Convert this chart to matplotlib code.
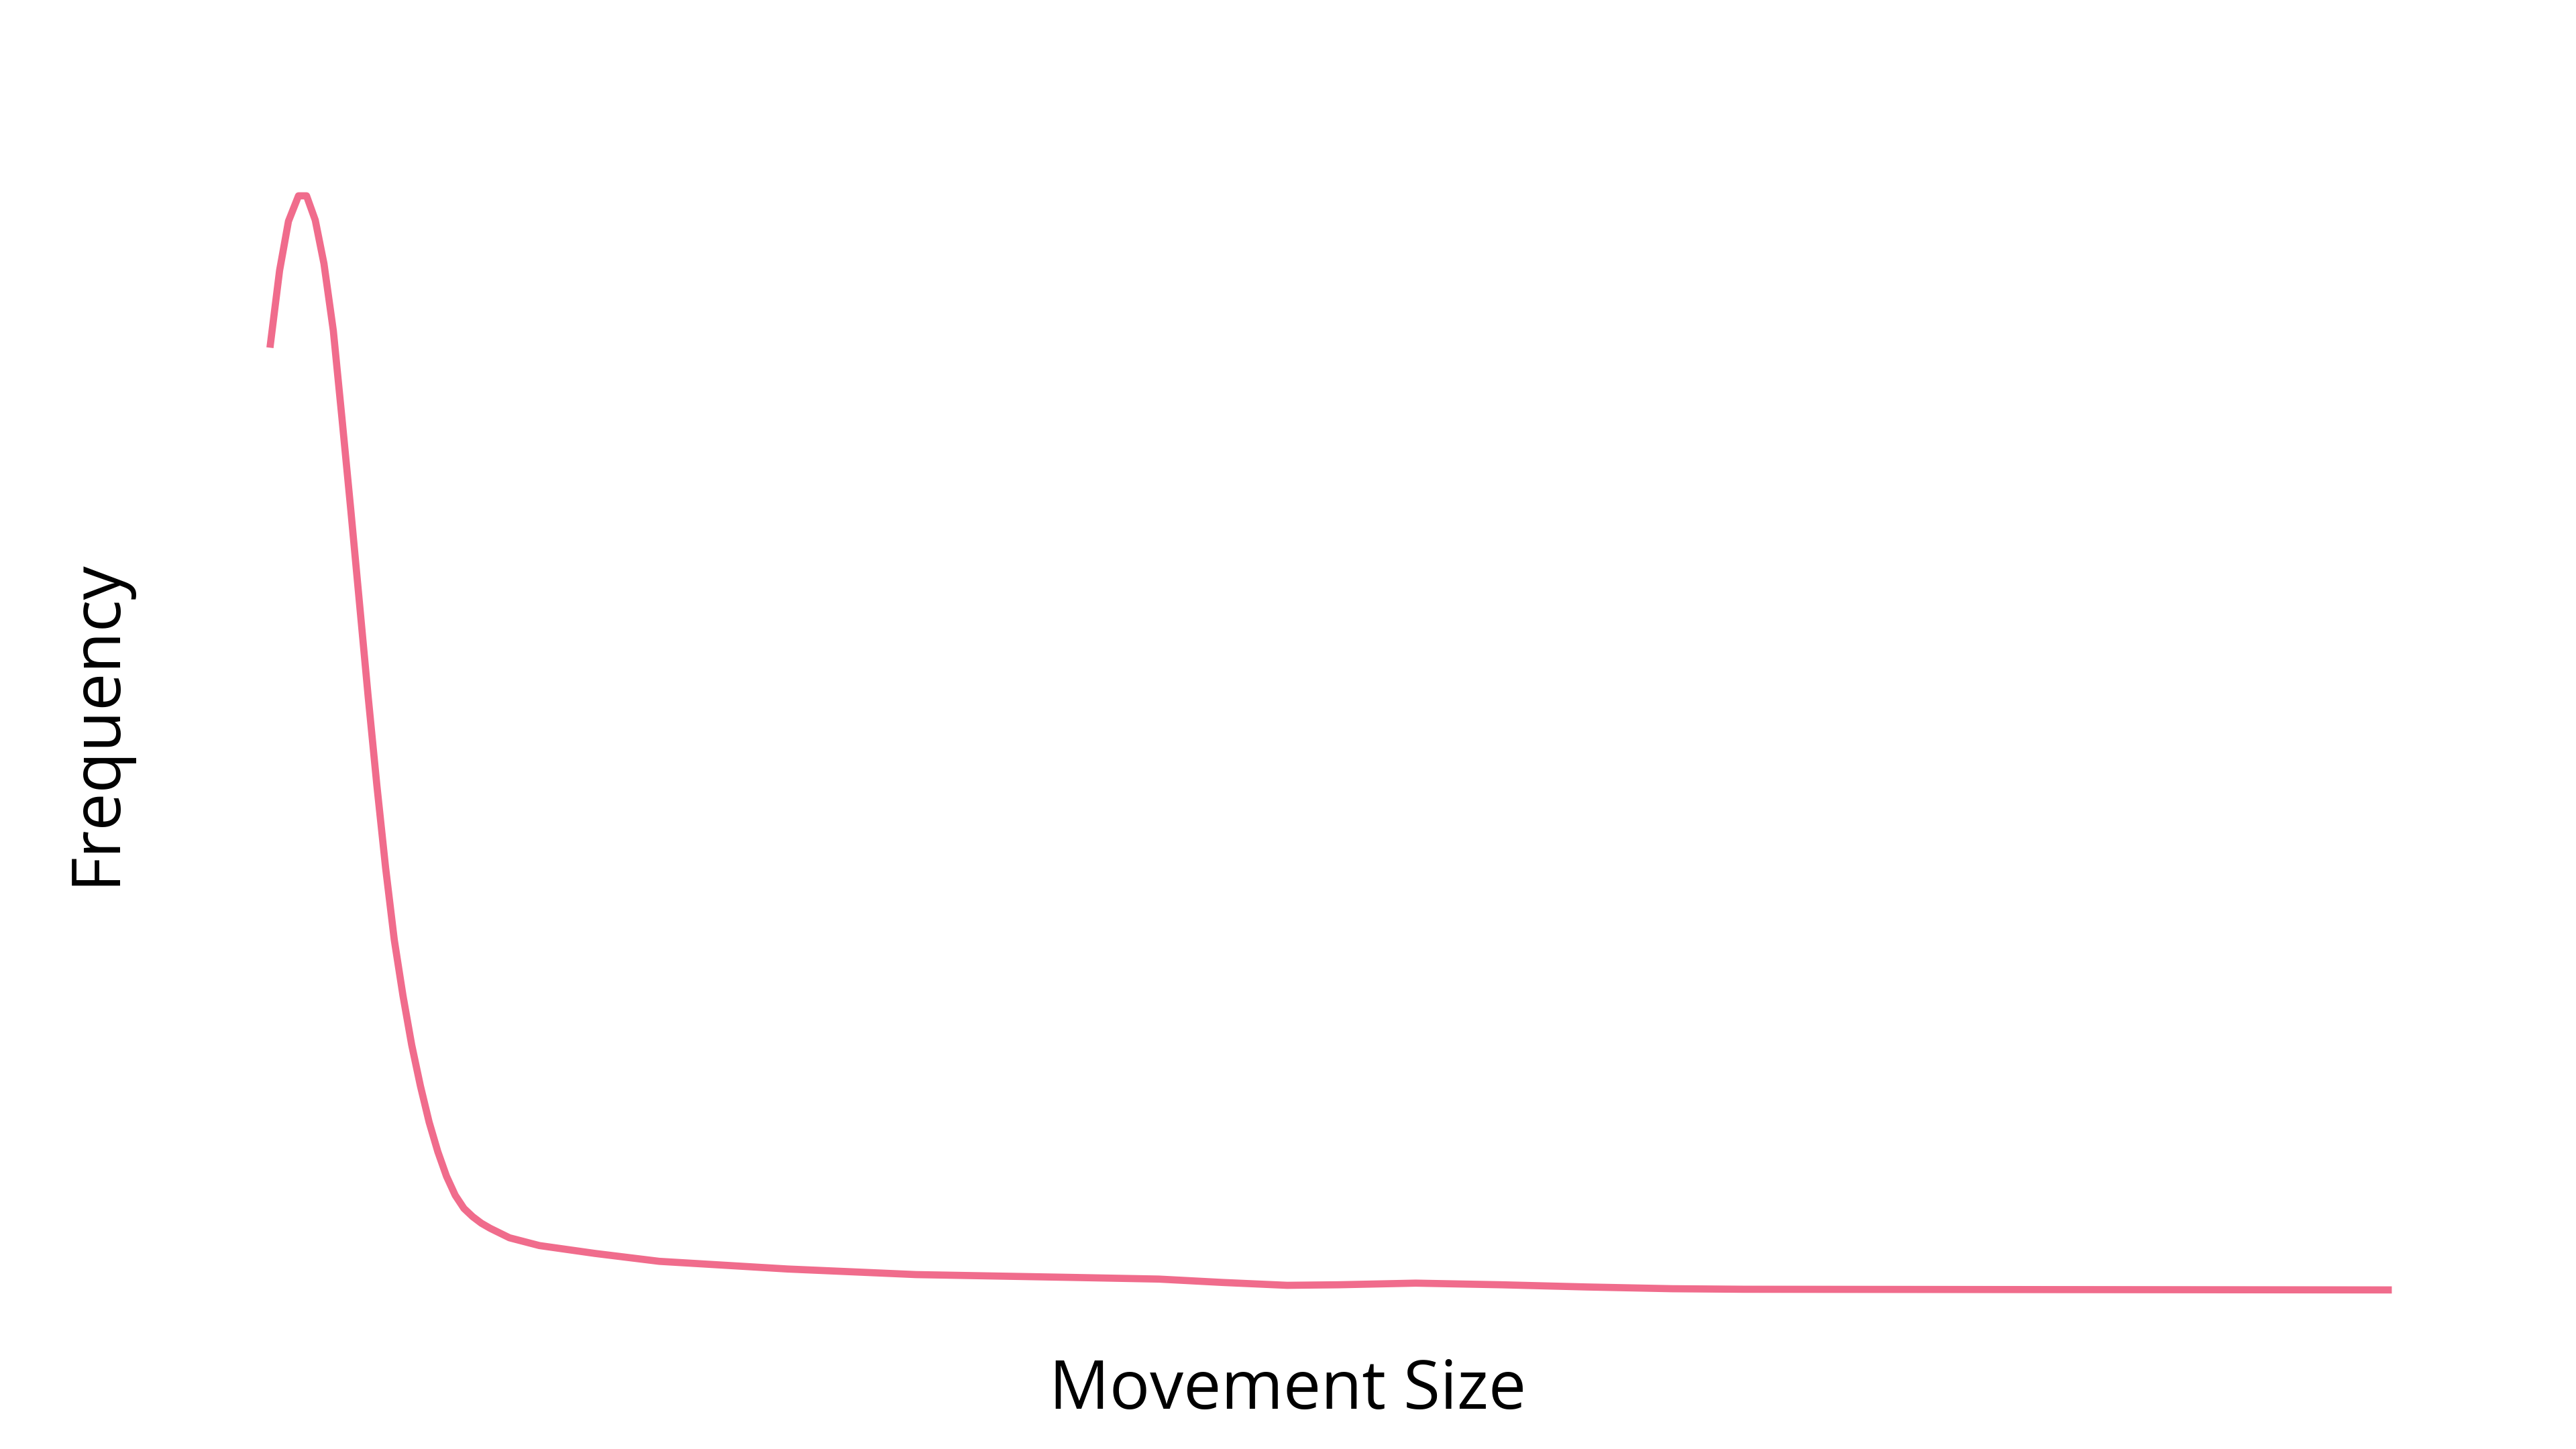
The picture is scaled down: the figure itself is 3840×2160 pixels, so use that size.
import matplotlib
matplotlib.use("Agg")
import matplotlib.pyplot as plt

plt.rcParams['font.family'] = ['Open Sans', 'DejaVu Sans']

# kde curve (movement size 0-100, frequency scaled to peak = 1)
movement_size = [0.0, 0.434, 0.853, 1.327, 1.707, 2.118, 2.529, 2.971, 3.382, 3.793,
                 4.205, 4.616, 5.027, 5.438, 5.849, 6.260, 6.671, 7.083, 7.494, 7.905,
                 8.316, 8.727, 9.138, 9.549, 9.960, 10.372, 11.287, 12.699, 15.329, 18.362,
                 24.420, 30.479, 37.910, 41.952, 44.977, 48.010, 50.438, 54.077, 58.118, 62.152,
                 66.194, 69.591, 84.199, 100.0]
frequency = [0.8646, 0.9319, 0.9768, 1.0, 1.0, 0.9778, 0.9381, 0.8769, 0.7963, 0.7139,
             0.6284, 0.5429, 0.4619, 0.3869, 0.3209, 0.2699, 0.2250, 0.1875, 0.1545, 0.1275,
             0.1050, 0.0877, 0.0757, 0.0682, 0.0622, 0.0576, 0.0489, 0.0418, 0.0346, 0.0274,
             0.0204, 0.0153, 0.0127, 0.0112, 0.0081, 0.0055, 0.0060, 0.0075, 0.0060, 0.0040,
             0.0024, 0.0019, 0.0016, 0.0013]

fig = plt.figure(figsize=(16, 9), dpi=240, facecolor='w')
ax = fig.add_axes([0.10497, 0.10880, 0.82214, 0.75606])
ax.plot(movement_size, frequency, color='#f06c8c', linewidth=3.2, clip_on=False)
ax.set_xlim(0, 100)
ax.set_ylim(0, 1)
ax.axis('off')

fig.text(0.5, 1 - 2100 / 2160, 'Movement Size', fontsize=30,
         ha='center', va='baseline')
fig.text(170 / 3840, 1 - 1077 / 2160, 'Frequency', fontsize=30, rotation=90,
         rotation_mode='anchor', ha='center', va='baseline')

fig.savefig('out.png', dpi=240, facecolor='w')
